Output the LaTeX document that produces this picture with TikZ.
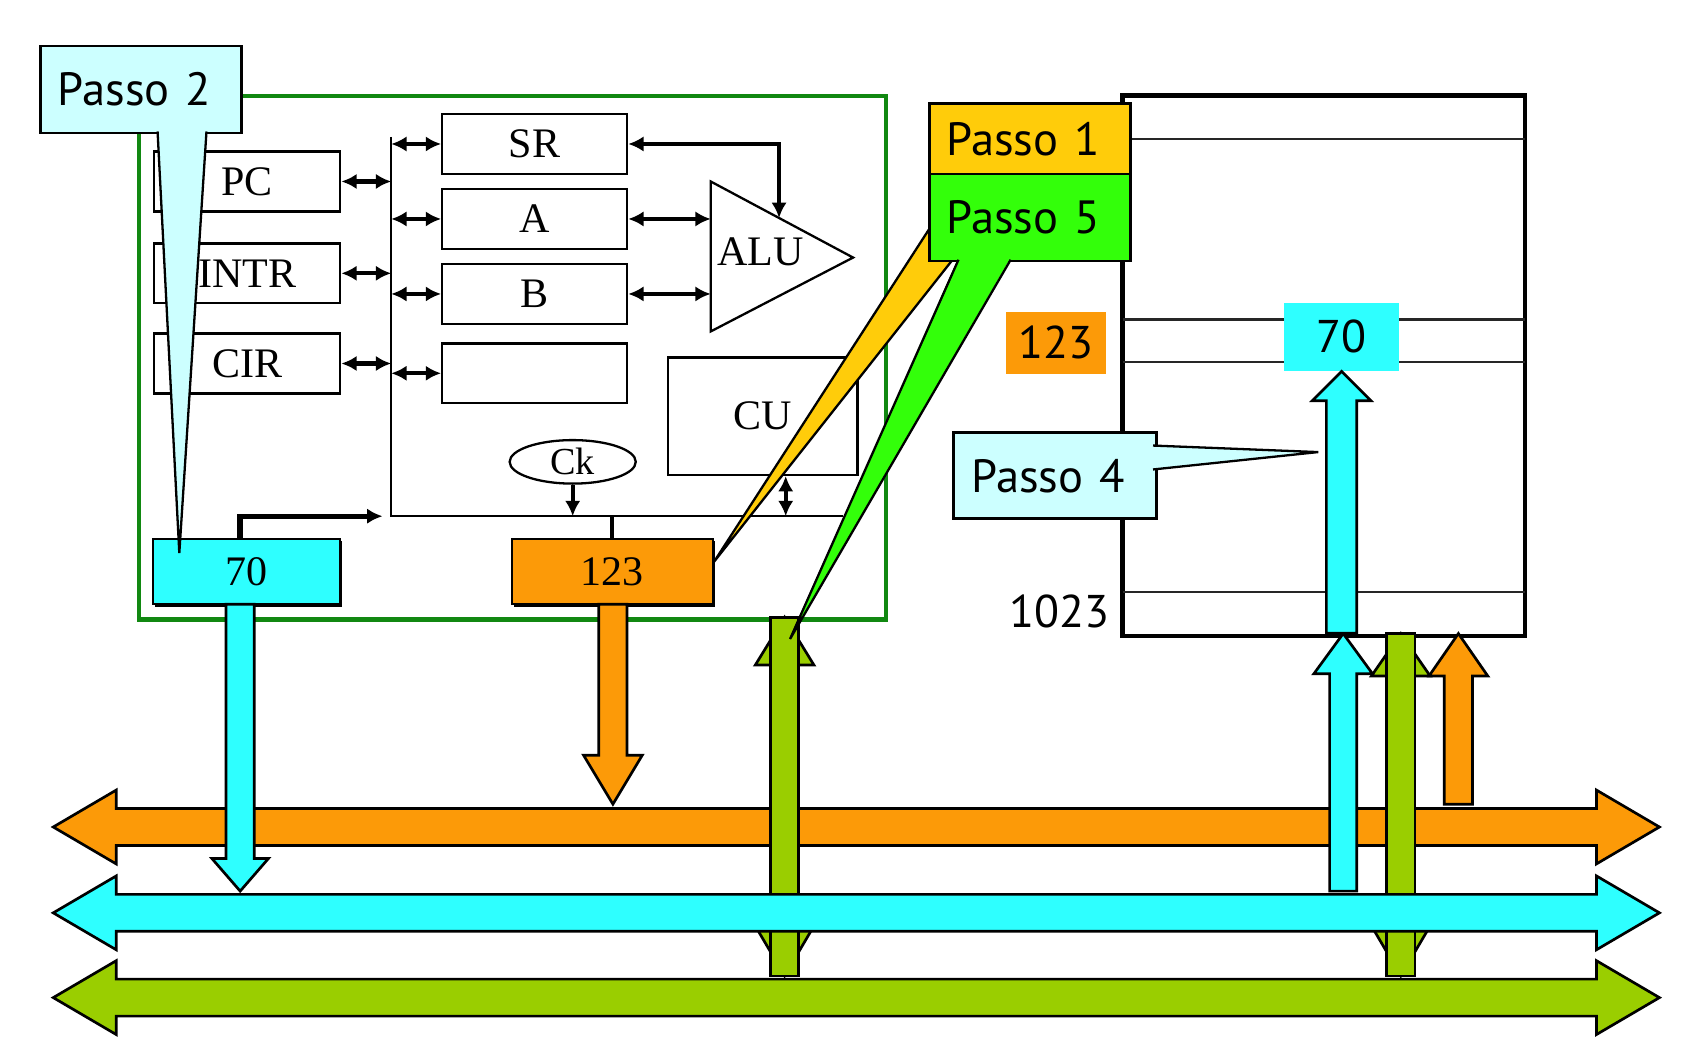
\documentclass[tikz,border=0pt]{standalone}
\usepackage{fontspec}
\setmainfont{Liberation Serif}
\newfontfamily\passofont{PT Sans}
\usetikzlibrary{calc,arrows.meta,shapes.geometric,shadows}

\definecolor{cyanbus}{RGB}{46,255,255}
\definecolor{orangebus}{RGB}{252,154,8}
\definecolor{olivebus}{RGB}{154,206,0}
\definecolor{calloutc}{RGB}{204,255,255}
\definecolor{passoone}{RGB}{255,204,10}
\definecolor{passofive}{RGB}{51,255,10}
\definecolor{cpugreen}{RGB}{17,136,17}

\begin{document}
\begin{tikzpicture}[x=0.01cm, y=-0.01cm,
    reg/.style={draw, line width=0.6pt, minimum width=1.71cm, minimum height=0.55cm, inner sep=0pt, font=\fontsize{11}{11}\selectfont},
    dbl/.style={{Latex[length=4pt,width=4pt]}-{Latex[length=4pt,width=4pt]}, line width=1.1pt},
    onearr/.style={-{Latex[length=4pt,width=4pt]}, line width=1.1pt},
    wire/.style={line width=0.6pt},
    blockarr/.style={draw, line width=0.7pt, line join=miter},
    passo/.style={draw, line width=0.7pt, anchor=north west, inner xsep=0.16cm, inner ysep=0pt, text width=1.53cm, font=\passofont\fontsize{12.2}{14}\selectfont},
    memtxt/.style={font=\passofont\fontsize{12}{14}\selectfont, inner sep=0pt},
    shade/.style={drop shadow={shadow xshift=0.6pt, shadow yshift=-0.6pt, fill=black, opacity=1}}]
    \useasboundingbox (0,0) rectangle (1568,979);

    % Draw CPU
    \draw[cpugreen, line width=1.1pt] (128,88) rectangle (815,570);

    % Draw registers
    \node[reg] (pc) at (227.5,167) {PC};
    \node[reg] (intr) at (227.5,251.5) {INTR};
    \node[reg] (cir) at (227.5,334.5) {CIR};
    \node[reg, minimum width=1.70cm] (sr) at (492,132.5) {SR};
    \node[reg, minimum width=1.70cm] (a) at (492,201.5) {A};
    \node[reg, minimum width=1.70cm] (b) at (492,270.5) {B};
    \node[reg, minimum width=1.70cm] (rx) at (492,343.5) {};

    % Draw internal bus
    \coordinate (bustop) at (360,126);
    \coordinate (hbus) at (360,475);
    \coordinate (hbusend) at (776,475);
    \draw[wire] (bustop) -- (hbus) -- (hbusend);
    \foreach \r in {pc,intr,cir}
        \draw[dbl] (\r.east) -- (\r.east -| hbus);
    \foreach \r in {sr,a,b,rx}
        \draw[dbl] (\r.west -| hbus) -- (\r.west);

    % Draw ALU
    \coordinate (aluT) at (654,167);
    \coordinate (aluP) at (785,237);
    \coordinate (aluB) at (654,305);
    \draw[wire] (aluT) -- (aluP) -- (aluB) -- cycle;
    \node[font=\fontsize{11}{11}\selectfont] (alu) at (700,232) {ALU};
    \coordinate (aluin) at ($(aluT)!0.48!(aluP)$);
    \draw[dbl] (a.east) -- (a.east -| aluT);
    \draw[dbl] (b.east) -- (b.east -| aluT);
    \draw[dbl] (sr.east) -| (aluin);

    % Draw CU and clock
    \node[reg, minimum width=1.74cm, minimum height=1.08cm] (cu) at (702,383) {CU};
    \draw[dbl] ([xshift=0.21cm]cu.south) -- ([xshift=0.21cm]cu.south |- hbus);
    \node[draw, ellipse, wire, minimum width=1.16cm, minimum height=0.40cm, inner sep=0pt, font=\fontsize{10}{10}\selectfont] (ck) at (527,425) {Ck};
    \draw[onearr] (ck.south) -- (ck.south |- hbus);

    % Draw address and data registers
    \node[reg, shade, fill=cyanbus, minimum width=1.72cm, minimum height=0.60cm] (mar) at (227,526) {70};
    \node[reg, shade, fill=orangebus, minimum width=1.85cm, minimum height=0.60cm] (mbr) at (563.5,526) {123};
    \coordinate (marup) at (221,496);
    \draw[onearr, line width=1.4pt] (marup) |- ([xshift=-0.08cm]hbus);
    \draw[line width=1.1pt] (mbr.north |- hbus) -- (mbr.north);

    % Draw memory
    \node[draw, line width=1.2pt, outer sep=0pt, minimum width=3.70cm, minimum height=4.97cm, inner sep=0pt, anchor=north west] (mem) at (1033,88) {};
    \foreach \yy in {128,294,333,545}
        \draw[gray!30!black, line width=0.55pt] (1033,\yy) -- (1403,\yy);
    \node[memtxt, fill=cyanbus, minimum width=1.05cm, minimum height=0.62cm] (mem70) at (1234.5,310) {70};
    \node[memtxt, fill=orangebus, minimum width=0.92cm, minimum height=0.57cm] (mem123) at (972,315.5) {123};
    \node[memtxt] (addr) at (975,563) {1023};

    % Draw address bus
    \coordinate (abus) at (0,761);
    \coordinate (dbus) at (0,840);
    \coordinate (cbus) at (0,918);
    \draw[blockarr, fill=orangebus, shift={(abus)}] (49,0) -- (107,-34) -- (107,-17) -- (1469,-17) -- (1469,-34) -- (1527,0) -- (1469,34) -- (1469,17) -- (107,17) -- (107,34) -- cycle;

    % Draw vertical transfers
    \coordinate (marout) at (221,556);
    \coordinate (mbrout) at (564,556);
    \coordinate (memin) at (1236,820);
    \coordinate (memaddr) at (1342,740);
    \coordinate (cpudata) at (722,568);
    \coordinate (memdata) at (1289,583);
    \draw[blockarr, fill=cyanbus, shift={(marout)}] (-13,0) -- (13,0) -- (13,234) -- (26,234) -- (0,264) -- (-26,234) -- (-13,234) -- cycle;
    \draw[blockarr, fill=orangebus, shift={(mbrout)}] (-13,0) -- (13,0) -- (13,139) -- (27,139) -- (0,184) -- (-27,139) -- (-13,139) -- cycle;
    \draw[blockarr, fill=cyanbus, shift={(memin)}] (-12.5,0) -- (12.5,0) -- (12.5,-200) -- (27,-200) -- (0,-237) -- (-27,-200) -- (-12.5,-200) -- cycle;
    \draw[blockarr, fill=orangebus, shift={(memaddr)}] (-13,0) -- (13,0) -- (13,-118) -- (27,-118) -- (0,-157) -- (-27,-118) -- (-13,-118) -- cycle;
    \draw[blockarr, fill=olivebus, shift={(cpudata)}] (0,0) -- (27,44) -- (-27,44) -- cycle;
    \draw[blockarr, fill=olivebus, shift={(cpudata)}] (0,330) -- (27,284) -- (-27,284) -- cycle;
    \draw[blockarr, fill=olivebus, shift={(cpudata)}] (-13,0) rectangle (13,330);
    \draw[blockarr, fill=olivebus, shift={(memdata)}] (0,0) -- (27,39) -- (-27,39) -- cycle;
    \draw[blockarr, fill=olivebus, shift={(memdata)}] (0,315) -- (27,269) -- (-27,269) -- cycle;
    \draw[blockarr, fill=olivebus, shift={(memdata)}] (-13,0) rectangle (13,315);

    % Draw data and control bus
    \foreach \bb/\cc in {dbus/cyanbus, cbus/olivebus}
        \draw[blockarr, fill=\cc, shift={(\bb)}] (49,0) -- (107,-34) -- (107,-17) -- (1469,-17) -- (1469,-34) -- (1527,0) -- (1469,34) -- (1469,17) -- (107,17) -- (107,34) -- cycle;

    % Draw cell read
    \draw[blockarr, fill=cyanbus, shift={(mem70.south)}] (0,0) -- (27,27) -- (14,27) -- (14,241) -- (-14,241) -- (-14,27) -- (-27,27) -- cycle;

    % Draw callouts
    \node[passo, fill=calloutc, minimum height=0.80cm] (p2) at (36,41) {Passo 2};
    \coordinate (p2tip) at (165,509);
    \fill[calloutc] (145,119) -- (190,119) -- (p2tip) -- cycle;
    \draw[wire] (145,121) -- (p2tip) -- (190,121);

    \node[passo, fill=passoone, minimum height=0.65cm] (p1) at (854,94) {Passo 1};
    \coordinate (p1tip) at (657,517);
    \draw[wire, fill=passoone] (862,200) -- (p1tip) -- (890,222) -- cycle;

    \node[passo, fill=passofive, minimum height=0.80cm] (p5) at (854,159) {Passo 5};
    \coordinate (p5tip) at (727,588);
    \fill[passofive] (882,237) -- (930,237) -- (p5tip) -- cycle;
    \draw[wire] (882,239) -- (p5tip) -- (930,239);

    \node[passo, fill=calloutc, minimum height=0.79cm, inner xsep=0.17cm] (p4) at (876,397) {Passo 4};
    \coordinate (p4tip) at (1213,416);
    \fill[calloutc] (1059,410) -- (1059,432) -- (p4tip) -- cycle;
    \draw[wire] (1061,410) -- (p4tip) -- (1061,432);
\end{tikzpicture}
\end{document}
